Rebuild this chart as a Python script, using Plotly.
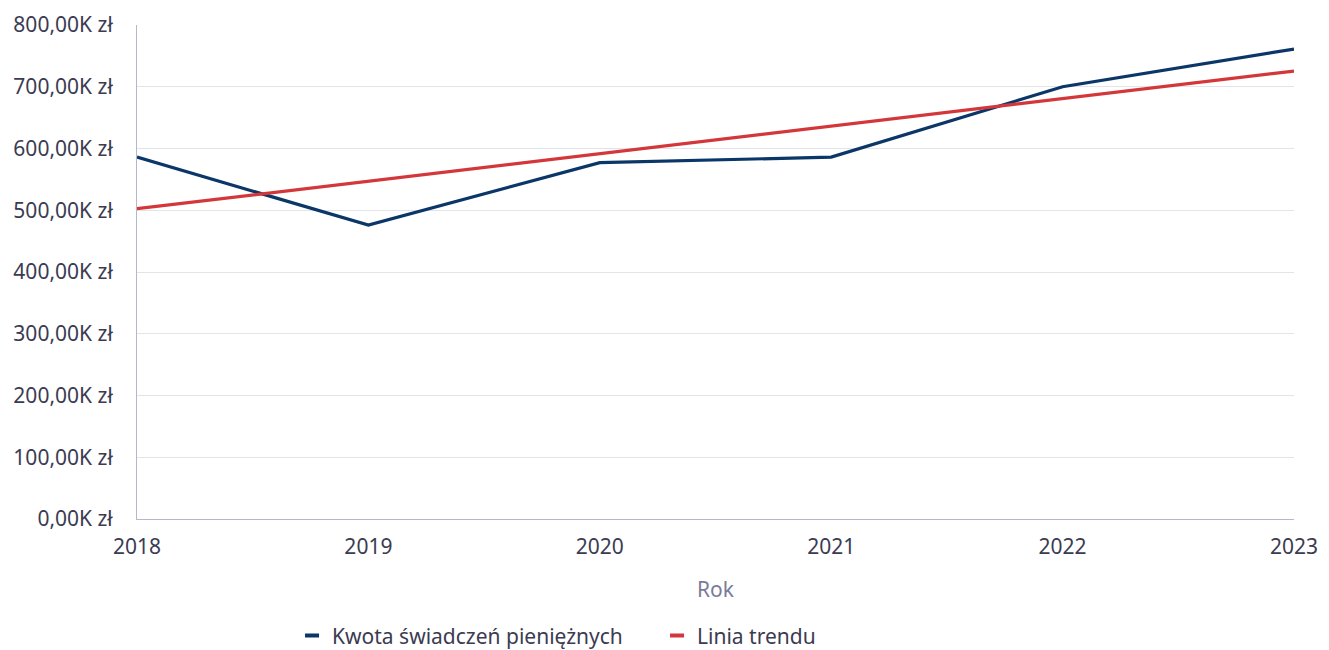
import plotly.graph_objects as go

years = [2018, 2019, 2020, 2021, 2022, 2023]
amounts = [586000, 476000, 577000, 586000, 700000, 761000]
trend = [502500, 547000, 591600, 636200, 680800, 725400]

tick_vals = [0, 100000, 200000, 300000, 400000, 500000, 600000, 700000, 800000]
tick_text = ["0,00K zł", "100,00K zł", "200,00K zł", "300,00K zł", "400,00K zł",
             "500,00K zł", "600,00K zł", "700,00K zł", "800,00K zł"]

series_name = "Kwota świadczeń pieniężnych"
trend_name = "Linia trendu"
navy = "#0b3668"
red = "#d4373a"

fig = go.Figure()
fig.add_trace(go.Scatter(x=years, y=amounts, mode="lines", name=series_name,
                         line=dict(color=navy, width=3.2), showlegend=False))
fig.add_trace(go.Scatter(x=years, y=trend, mode="lines", name=trend_name,
                         line=dict(color=red, width=3.2), showlegend=False))
# legend entries with short dash symbols
for nm, col in [(series_name, navy), (trend_name, red)]:
    fig.add_trace(go.Scatter(x=[None], y=[None], mode="markers", name=nm,
                             marker=dict(symbol="line-ew", size=10,
                                         line=dict(color=col, width=4))))

font_family = "Noto Sans, Open Sans, sans-serif"
fig.update_layout(
    width=1329, height=650,
    margin=dict(l=129, r=43, t=17, b=139),
    paper_bgcolor="white", plot_bgcolor="white",
    font=dict(family=font_family, size=21, color="#3b3b52"),
    showlegend=True,
    legend=dict(orientation="h", x=0.134, xanchor="left", yref="container",
                y=0.034, yanchor="middle",
                font=dict(size=21, color="#3b3b52"), entrywidth=320, tracegroupgap=0),
    xaxis=dict(range=[2018, 2023], tickvals=years, ticktext=[str(y) for y in years],
               showgrid=False, zeroline=False, showline=True, linecolor="#b6b6cc", linewidth=1,
               ticks="", ticklabelstandoff=9, automargin=False,
               title=dict(text="Rok", font=dict(size=21, color="#7b7b9a"), standoff=23)),
    yaxis=dict(range=[0, 800000], tickvals=tick_vals, ticktext=tick_text,
               showgrid=True, gridcolor="#e3e3ea", gridwidth=1, zeroline=False, automargin=False,
               showline=True, linecolor="#b6b6cc", linewidth=1, ticks="", ticklabelstandoff=19),
)

fig.write_html("out.html")
